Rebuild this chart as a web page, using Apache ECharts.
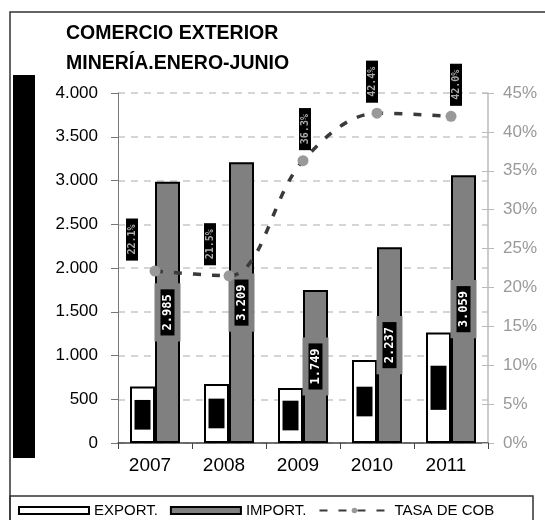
<!DOCTYPE html>
<html><head><meta charset="utf-8">
<script src="https://cdn.jsdelivr.net/npm/echarts@6/dist/echarts.min.js"></script>
<style>html,body{margin:0;padding:0;background:#fff}#c{width:545px;height:520px}</style>
</head><body><div id="c"></div><script>
const years = ['2007', '2008', '2009', '2010', '2011'];
const exportValues = [645, 675, 628, 948, 1262];
const importValues = [2985, 3209, 1749, 2237, 3059];
const tasaValues = [22.1, 21.5, 36.3, 42.4, 42.0];
const leftTickMax = 4000, leftTickStep = 500;
const rightTickMax = 45, rightTickStep = 5;
const seriesNames = ['EXPORT.', 'IMPORT.', 'TASA DE COB'];
const tasaLabelShift = [-23, -19, 2, -5, 5];

function fmt(v) {
  const s = String(Math.round(v));
  return s.replace(/\B(?=(\d{3})+(?!\d))/g, '.');
}
const FONT = 'Liberation Sans';
const MONO = 'DejaVu Sans Mono';

const chart = echarts.init(document.getElementById('c'), null, {renderer: 'canvas'});
chart.setOption({
  animation: false,
  backgroundColor: '#fff',
  title: {
    text: 'COMERCIO EXTERIOR\nMINERÍA.ENERO-JUNIO',
    left: 61, top: 14,
    textStyle: {fontFamily: FONT, fontSize: 19.5, fontWeight: 'bold', color: '#000', lineHeight: 30}
  },
  graphic: [
    {type: 'rect', shape: {x: 10, y: 12, width: 560, height: 560}, style: {fill: 'none', stroke: '#333', lineWidth: 1.5}, silent: true, z: -1},
    {type: 'rect', shape: {x: 10, y: 496, width: 523, height: 40}, style: {fill: 'none', stroke: '#333', lineWidth: 1.5}, silent: true, z: -1},
    {type: 'rect', shape: {x: 13, y: 75, width: 22, height: 383}, style: {fill: '#000'}, silent: true}
  ],
  legend: {
    left: 13, top: 498,
    itemWidth: 70, itemHeight: 7, itemGap: 12,
    textStyle: {fontFamily: FONT, fontSize: 15, color: '#000'},
    data: [
      {name: seriesNames[0], icon: 'rect'},
      {name: seriesNames[1], icon: 'rect'},
      {name: seriesNames[2]}
    ]
  },
  grid: {left: 118, right: 57, top: 93, bottom: 77},
  xAxis: {
    type: 'category', data: years,
    axisLine: {lineStyle: {color: '#444', width: 1.5}},
    axisTick: {show: true, length: 6, lineStyle: {color: '#444'}},
    axisLabel: {fontFamily: FONT, fontSize: 19, color: '#000', margin: 13, padding: [0, 10, 0, 0]}
  },
  yAxis: [
    {
      type: 'value', min: 0, max: leftTickMax, interval: leftTickStep,
      axisLine: {show: true, lineStyle: {color: '#777', width: 1}},
      axisTick: {show: true, length: 7, lineStyle: {color: '#777'}},
      axisLabel: {fontFamily: FONT, fontSize: 17, color: '#000', margin: 20, formatter: v => fmt(v)},
      splitLine: {lineStyle: {color: '#c8c8c8', width: 1.5, type: [7, 6]}}
    },
    {
      type: 'value', min: 0, max: rightTickMax, interval: rightTickStep, position: 'right',
      axisLine: {show: true, lineStyle: {color: '#bbb', width: 1.5}},
      axisTick: {show: true, length: 6, lineStyle: {color: '#bbb'}},
      axisLabel: {fontFamily: FONT, fontSize: 17, color: '#999', margin: 15, formatter: '{value}%'},
      splitLine: {show: false}
    },
    {
      type: 'value', min: 0, max: rightTickMax, interval: rightTickStep, position: 'right',
      axisLine: {show: false},
      axisTick: {show: true, inside: true, length: 6, lineStyle: {color: '#bbb'}},
      axisLabel: {show: false},
      splitLine: {show: false}
    }
  ],
  series: [
    {
      name: seriesNames[0], type: 'bar', data: exportValues,
      barWidth: 25, barGap: '0%',
      itemStyle: {color: '#fff', borderColor: '#000', borderWidth: 2},
      label: {
        show: true, position: 'inside', rotate: 90, formatter: p => fmt(p.value),
        fontFamily: MONO, fontSize: 12, fontWeight: 'bold', color: '#000',
        backgroundColor: '#000', padding: [2, 4]
      }
    },
    {
      name: seriesNames[1], type: 'bar', data: importValues,
      barWidth: 25,
      itemStyle: {color: '#808080', borderColor: '#000', borderWidth: 2},
      label: {
        show: true, position: 'inside', rotate: 90, formatter: p => fmt(p.value),
        fontFamily: MONO, fontSize: 12, fontWeight: 'bold', color: '#fff',
        backgroundColor: '#000', borderColor: '#808080', borderWidth: 6, padding: [1, 5]
      }
    },
    {
      name: seriesNames[2], type: 'line', yAxisIndex: 1,
      data: tasaValues.map((v, i) => ({value: v, label: {offset: [0, tasaLabelShift[i]]}})),
      smooth: 0.35,
      symbol: 'circle', symbolSize: 11,
      itemStyle: {color: '#999'},
      lineStyle: {color: '#3a3a3a', width: 3.5, type: [8, 11]},
      label: {
        show: true, position: 'top', distance: 5, rotate: 90, align: 'left', verticalAlign: 'middle',
        formatter: p => p.value.toFixed(1) + '%',
        fontFamily: MONO, fontSize: 10, fontWeight: 'bold', color: '#aaa',
        backgroundColor: '#000', padding: [1, 6]
      },
      z: 5
    }
  ]
});
</script></body></html>
